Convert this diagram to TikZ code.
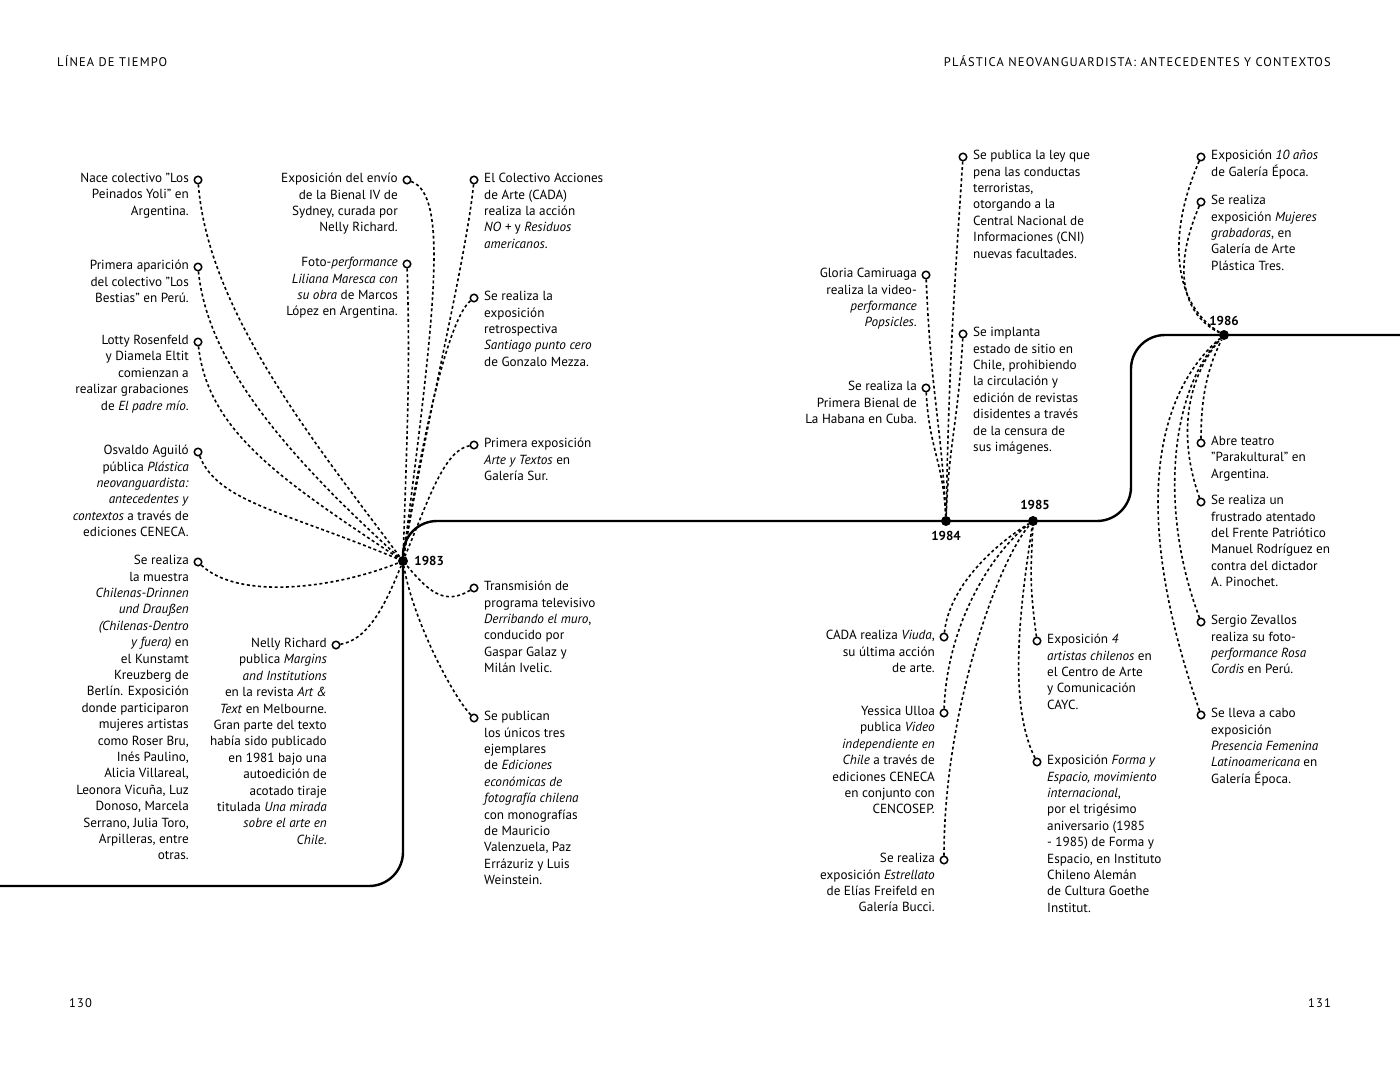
\documentclass[tikz,border=0pt]{standalone}
\usepackage{fontspec}
\setmainfont{PT Sans}
\usepackage{tikz}
\usetikzlibrary{positioning,calc}

\tikzset{
  timeline/.style={line width=2.4pt, rounded corners=34pt},
  link/.style={line width=1.6pt, dash pattern=on 3pt off 2.6pt},
  evt/.style={circle, draw, line width=1.5pt, fill=white, minimum size=7.5pt, inner sep=0pt},
  yeardot/.style={circle, fill=black, minimum size=10pt, inner sep=0pt},
  yeartxt/.style={font=\fontsize{13}{15}\selectfont\bfseries, inner sep=0pt},
  txt/.style={font=\fontsize{13.2}{16.4}\selectfont, inner sep=0pt, execute at begin node=\strut},
  ltxt/.style={txt, align=right, anchor=north east, xshift=-9pt, yshift=7pt},
  rtxt/.style={txt, align=left, anchor=north west, xshift=10pt, yshift=7pt},
  head/.style={font=\fontsize{12.5}{14}\selectfont\addfontfeature{LetterSpace=9}, inner sep=0pt},
}

\begin{document}
\begin{tikzpicture}[x=1pt, y=-1pt]
  \useasboundingbox (0,0) rectangle (1400,1073);

  % running heads and page numbers
  \node[head, anchor=west] (headl) at (57,61) {LÍNEA DE TIEMPO};
  \node[head, anchor=east] (headr) at (1331,61) {PLÁSTICA NEOVANGUARDISTA: ANTECEDENTES Y CONTEXTOS};
  \node[head, anchor=west] (pagel) at (69,1003) {130};
  \node[head, anchor=east] (pager) at (1331,1003) {131};

  % the time line
  \draw[timeline] (0,886) -- (403,886) -- (403,521) -- (1131,521) -- (1131,335) -- (1400,335);

  % years
  \node[yeardot] (y83) at (403,561) {};
  \node[yeardot] (y84) at (946,521) {};
  \node[yeardot] (y85) at (1033,521) {};
  \node[yeardot] (y86) at (1224,335) {};
  \node[yeartxt, right=6pt of y83] {1983};
  \node[yeartxt, below=5pt of y84] {1984};
  \node[yeartxt, above=6pt of y85, xshift=2pt] {1985};
  \node[yeartxt, above=4pt of y86] {1986};

  % ---- 1983, left column
  \node[evt] (yoli) at (198,180) {};
  \node[ltxt] (yoli-t) at (yoli) {Nace colectivo "Los\\Peinados Yoli" en\\Argentina.};
  \node[evt] (bestias) at (198,267) {};
  \node[ltxt] (bestias-t) at (bestias) {Primera aparición\\del colectivo "Los\\Bestias" en Perú.};
  \node[evt] (padre) at (198,342) {};
  \node[ltxt] (padre-t) at (padre) {Lotty Rosenfeld\\y Diamela Eltit\\comienzan a\\realizar grabaciones\\de \textit{El padre mío}.};
  \node[evt] (aguilo) at (198,452) {};
  \node[ltxt] (aguilo-t) at (aguilo) {Osvaldo Aguiló\\pública \textit{Plástica}\\\textit{neovanguardista:}\\\textit{antecedentes y}\\\textit{contextos} a través de\\ediciones CENECA.};
  \node[evt] (chilenas) at (198,562) {};
  \node[ltxt] (chilenas-t) at (chilenas) {Se realiza\\la muestra\\\textit{Chilenas-Drinnen}\\\textit{und Draußen}\\\textit{(Chilenas-Dentro}\\\textit{y fuera)} en\\el Kunstamt\\Kreuzberg de\\Berlín. Exposición\\donde participaron\\mujeres artistas\\como Roser Bru,\\Inés Paulino,\\Alicia Villareal,\\Leonora Vicuña, Luz\\Donoso, Marcela\\Serrano, Julia Toro,\\Arpilleras, entre\\otras.};

  % ---- 1983, middle column
  \node[evt] (sydney) at (407,180) {};
  \node[ltxt] (sydney-t) at (sydney) {Exposición del envío\\de la Bienal IV de\\Sydney, curada por\\Nelly Richard.};
  \node[evt] (maresca) at (407,264) {};
  \node[ltxt] (maresca-t) at (maresca) {Foto-\textit{performance}\\\textit{Liliana Maresca con}\\\textit{su obra} de Marcos\\López en Argentina.};
  \node[evt] (margins) at (336,645) {};
  \node[ltxt] (margins-t) at (margins) {Nelly Richard\\publica \textit{Margins}\\\textit{and Institutions}\\en la revista \textit{Art \&}\\\textit{Text} en Melbourne.\\Gran parte del texto\\había sido publicado\\en 1981 bajo una\\autoedición de\\acotado tiraje\\titulada \textit{Una mirada}\\\textit{sobre el arte en}\\\textit{Chile}.};

  % ---- 1983, right column
  \node[evt] (cada) at (474,180) {};
  \node[rtxt] (cada-t) at (cada) {El Colectivo Acciones\\de Arte (CADA)\\realiza la acción\\\textit{NO +} y \textit{Residuos}\\\textit{americanos}.};
  \node[evt] (mezza) at (474,298) {};
  \node[rtxt] (mezza-t) at (mezza) {Se realiza la\\exposición\\retrospectiva\\\textit{Santiago punto cero}\\de Gonzalo Mezza.};
  \node[evt] (textos) at (474,445) {};
  \node[rtxt] (textos-t) at (textos) {Primera exposición\\\textit{Arte y Textos} en\\Galería Sur.};
  \node[evt] (muro) at (474,588) {};
  \node[rtxt] (muro-t) at (muro) {Transmisión de\\programa televisivo\\\textit{Derribando el muro},\\conducido por\\Gaspar Galaz y\\Milán Ivelic.};
  \node[evt] (ediciones) at (474,718) {};
  \node[rtxt] (ediciones-t) at (ediciones) {Se publican\\los únicos tres\\ejemplares\\de \textit{Ediciones}\\\textit{económicas de}\\\textit{fotografía chilena}\\con monografías\\de Mauricio\\Valenzuela, Paz\\Errázuriz y Luis\\Weinstein.};

  \draw[link] (yoli) .. controls +(10,130) and +(-90,-120) .. (y83);
  \draw[link] (bestias) .. controls +(10,100) and +(-110,-100) .. (y83);
  \draw[link] (padre) .. controls +(10,90) and +(-120,-80) .. (y83);
  \draw[link] (aguilo) .. controls +(20,50) and +(-120,-50) .. (y83);
  \draw[link] (chilenas) .. controls +(40,38) and +(-70,28) .. (y83);
  \draw[link] (sydney) .. controls +(42,15) and +(32,-250) .. (y83);
  \draw[link] (maresca) .. controls +(3,100) and +(5,-150) .. (y83);
  \draw[link] (margins) .. controls +(30,-5) and +(-20,50) .. (y83);
  \draw[link] (cada) .. controls +(-8,80) and +(25,-150) .. (y83);
  \draw[link] (mezza) .. controls +(-25,20) and +(20,-130) .. (y83);
  \draw[link] (textos) .. controls +(-30,5) and +(25,-60) .. (y83);
  \draw[link] (muro) .. controls +(-30,18) and +(25,30) .. (y83);
  \draw[link] (ediciones) .. controls +(-20,-20) and +(10,60) .. (y83);

  % ---- 1984
  \node[evt] (popsicles) at (926,275) {};
  \node[ltxt] (popsicles-t) at (popsicles) {Gloria Camiruaga\\realiza la video-\\\textit{performance}\\\textit{Popsicles}.};
  \node[evt] (habana) at (926,388) {};
  \node[ltxt] (habana-t) at (habana) {Se realiza la\\Primera Bienal de\\La Habana en Cuba.};
  \node[evt] (ley) at (963,157) {};
  \node[rtxt] (ley-t) at (ley) {Se publica la ley que\\pena las conductas\\terroristas,\\otorgando a la\\Central Nacional de\\Informaciones (CNI)\\nuevas facultades.};
  \node[evt] (sitio) at (963,334) {};
  \node[rtxt] (sitio-t) at (sitio) {Se implanta\\estado de sitio en\\Chile, prohibiendo\\la circulación y\\edición de revistas\\disidentes a través\\de la censura de\\sus imágenes.};

  \draw[link] (popsicles) .. controls +(5,120) and +(-5,-100) .. (y84);
  \draw[link] (habana) .. controls +(3,60) and +(-3,-60) .. (y84);
  \draw[link] (ley) .. controls +(-10,150) and +(3,-150) .. (y84);
  \draw[link] (sitio) .. controls +(-5,90) and +(3,-80) .. (y84);

  % ---- 1985
  \node[evt] (viuda) at (944,637) {};
  \node[ltxt] (viuda-t) at (viuda) {CADA realiza \textit{Viuda},\\su última acción\\de arte.};
  \node[evt] (ulloa) at (944,713) {};
  \node[ltxt] (ulloa-t) at (ulloa) {Yessica Ulloa\\publica \textit{Video}\\\textit{independiente en}\\\textit{Chile} a través de\\ediciones CENECA\\en conjunto con\\CENCOSEP.};
  \node[evt] (estrellato) at (944,860) {};
  \node[ltxt] (estrellato-t) at (estrellato) {Se realiza\\exposición \textit{Estrellato}\\de Elías Freifeld en\\Galería Bucci.};
  \node[evt] (cayc) at (1037,641) {};
  \node[rtxt] (cayc-t) at (cayc) {Exposición \textit{4}\\\textit{artistas chilenos} en\\el Centro de Arte\\y Comunicación\\CAYC.};
  \node[evt] (forma) at (1037,762) {};
  \node[rtxt] (forma-t) at (forma) {Exposición \textit{Forma y}\\\textit{Espacio, movimiento}\\\textit{internacional},\\por el trigésimo\\aniversario (1985\\- 1985) de Forma y\\Espacio, en Instituto\\Chileno Alemán\\de Cultura Goethe\\Institut.};

  \draw[link] (viuda) .. controls +(5,-50) and +(-40,25) .. (y85);
  \draw[link] (ulloa) .. controls +(3,-90) and +(-40,30) .. (y85);
  \draw[link] (estrellato) .. controls +(0,-150) and +(-35,40) .. (y85);
  \draw[link] (cayc) .. controls +(-8,-60) and +(-2,50) .. (y85);
  \draw[link] (forma) .. controls +(-30,-60) and +(-12,80) .. (y85);

  % ---- 1986
  \node[evt] (epoca) at (1201,157) {};
  \node[rtxt] (epoca-t) at (epoca) {Exposición \textit{10 años}\\de Galería Época.};
  \node[evt] (grabadoras) at (1201,202) {};
  \node[rtxt] (grabadoras-t) at (grabadoras) {Se realiza\\exposición \textit{Mujeres}\\\textit{grabadoras}, en\\Galería de Arte\\Plástica Tres.};
  \node[evt] (parakultural) at (1201,443) {};
  \node[rtxt] (parakultural-t) at (parakultural) {Abre teatro\\"Parakultural" en\\Argentina.};
  \node[evt] (atentado) at (1201,502) {};
  \node[rtxt] (atentado-t) at (atentado) {Se realiza un\\frustrado atentado\\del Frente Patriótico\\Manuel Rodríguez en\\contra del dictador\\A. Pinochet.};
  \node[evt] (zevallos) at (1201,622) {};
  \node[rtxt] (zevallos-t) at (zevallos) {Sergio Zevallos\\realiza su foto-\\\textit{performance Rosa}\\\textit{Cordis} en Perú.};
  \node[evt] (presencia) at (1201,715) {};
  \node[rtxt] (presencia-t) at (presencia) {Se lleva a cabo\\exposición\\\textit{Presencia Femenina}\\\textit{Latinoamericana} en\\Galería Época.};

  \draw[link] (epoca) .. controls +(-35,80) and +(-50,-30) .. (y86);
  \draw[link] (grabadoras) .. controls +(-30,70) and +(-40,-20) .. (y86);
  \draw[link] (parakultural) .. controls +(0,-50) and +(-15,30) .. (y86);
  \draw[link] (atentado) .. controls +(-25,-70) and +(-35,40) .. (y86);
  \draw[link] (zevallos) .. controls +(-45,-120) and +(-50,50) .. (y86);
  \draw[link] (presencia) .. controls +(-70,-200) and +(-70,60) .. (y86);
\end{tikzpicture}
\end{document}
